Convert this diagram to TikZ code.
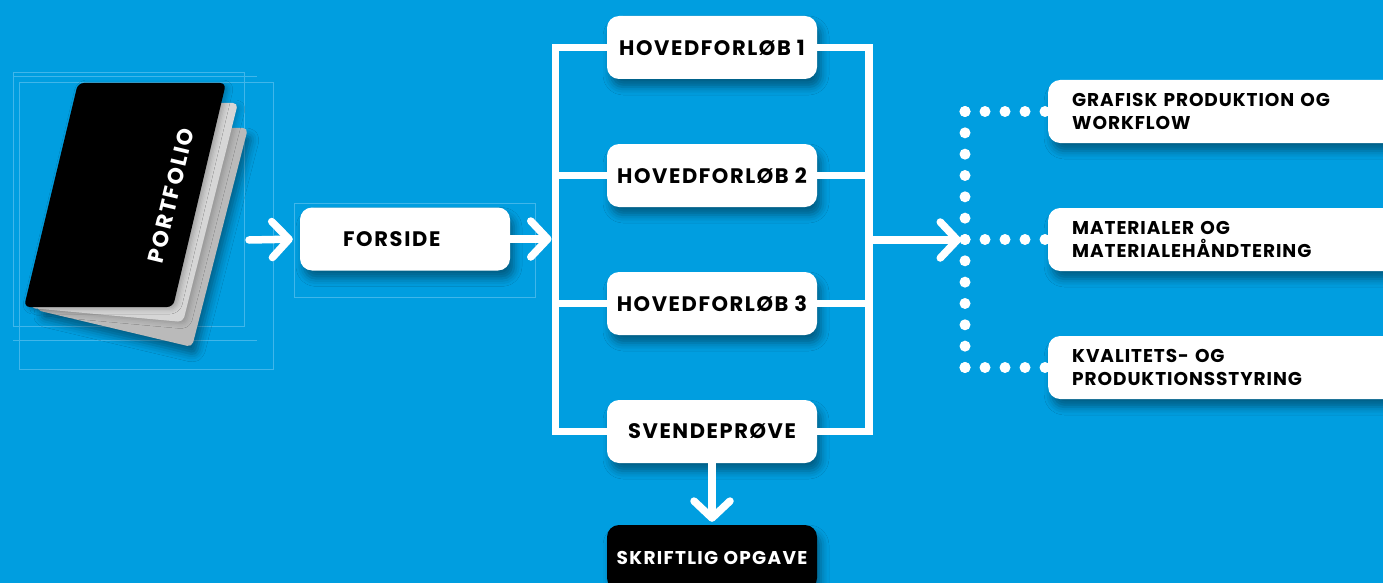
\documentclass[tikz,border=0pt]{standalone}
\usepackage{fontspec}
\setmainfont{Poppins}
\usetikzlibrary{arrows.meta,calc,shadows.blur}
\definecolor{bgblue}{RGB}{0,158,224}
\definecolor{frameblue}{RGB}{64,182,234}
\definecolor{pagelight}{RGB}{214,214,214}
\definecolor{pagedark}{RGB}{186,186,186}
\newcommand\boxfont[3]{\bfseries\fontsize{#1}{#3}\selectfont\addfontfeature{LetterSpace=#2}}
\tikzset {>={Straight Barb[length=17pt,width=36pt,round]}}
\tikzset{
  wire/.style={white,line width=7.5pt},
  arr/.style={white,line width=7.5pt,line cap=round,->},
  dots/.style={white,line width=11pt,line cap=round,dash pattern=on 0pt off #1},
  dots/.default=20pt,
  frame/.style={frameblue,line width=.8pt},
  soft/.style={blur shadow={shadow xshift=4pt,shadow yshift=-8pt,shadow blur radius=8pt,shadow opacity=40}},
  box/.style={fill=white,rounded corners=12pt,minimum width=210pt,minimum height=63pt,
    inner sep=0pt,font=\boxfont{21}{7.5}{24},soft},
  sidebox/.style={box,anchor=west,minimum width=370pt,text width=322pt,inner xsep=24pt,
    align=left,font=\boxfont{18.5}{5}{22.7}}
}

\begin{document}
\begin{tikzpicture}[x=1pt,y=-1pt]
\useasboundingbox (0,0) rectangle (1383,583);
\fill[bgblue] (0,0) rectangle (1383,583);

% faint frames
\draw[frame] (13,72) rectangle (244,326);
\draw[frame] (19,82) rectangle (273,369);
\draw[frame] (13,76) -- (257,76);
\draw[frame] (13,340) -- (257,340);
\draw[frame] (294,203) rectangle (535,297);

% portfolio
\fill[pagedark,rounded corners=5pt,soft] (120,128) -- (248,128) -- (192,347) -- (36,310) -- cycle;
\fill[pagelight,rounded corners=5pt,blur shadow={shadow xshift=3pt,shadow yshift=-2pt,shadow blur radius=5pt,shadow opacity=20}] (100,103) -- (238,103) -- (183,322) -- (30,308) -- cycle;
\fill[black,rounded corners=6pt,blur shadow={shadow xshift=3pt,shadow yshift=-2pt,shadow blur radius=5pt,shadow opacity=25}] (78,83) -- (226,83) -- (173,307) -- (24,307) -- cycle;
\node[white,rotate=76.5,font=\boxfont{22}{9}{24}] (pt) at (171,196) {PORTFOLIO};
\coordinate (pf) at (249,240);

% boxes
\node[box,text width=124pt,inner xsep=43pt,align=left,font=\boxfont{21}{8}{24}] (fs) at (405,239) {FORSIDE};
\node[box] (h1) at (712,47.5) {HOVEDFORLØB 1};
\node[box] (h2) at (712,175.5) {HOVEDFORLØB 2};
\node[box] (h3) at (712,303.5) {HOVEDFORLØB 3};
\node[box] (sv) at (712,431.5) {SVENDEPRØVE};
\node[box,fill=black,text=white,minimum height=65pt,font=\boxfont{18.5}{7}{22}] (sk) at (712,557.5) {SKRIFTLIG OPGAVE};

\node[sidebox] (ga) at (1048,111.5) {GRAFISK PRODUKTION OG\\WORKFLOW};
\node[sidebox] (ma) at (1048,239.5) {MATERIALER OG\\MATERIALEHÅNDTERING};
\node[sidebox] (kv) at (1048,367.5) {KVALITETS- OG\\PRODUKTIONSSTYRING};

\coordinate (lbar) at (555.5,0);
\coordinate (rbar) at (869,0);
\coordinate (hub) at (965,240);

% bracket
\draw[wire] (h1.west) -- (h1.west -| lbar) -- (sv.west -| lbar) -- (sv.west);
\draw[wire] (h2.west) -- (h2.west -| lbar);
\draw[wire] (h3.west) -- (h3.west -| lbar);
\draw[wire] (h1.east) -- (h1.east -| rbar) -- (sv.east -| rbar) -- (sv.east);
\draw[wire] (h2.east) -- (h2.east -| rbar);
\draw[wire] (h3.east) -- (h3.east -| rbar);

% arrows
\draw[arr,shorten >=7pt] (pf) -- (fs.west);
\draw[arr,shorten >=4pt] (fs.east) -- (fs.east -| lbar);
\draw[arr,shorten >=4pt] (rbar |- hub) -- (hub);
\draw[arr,shorten >=3pt] (sv.south) -- (sk.north);

% dotted links
\draw[dots=21.33pt] (ga.west -| hub) -- (kv.west -| hub);
\draw[dots] (ga.west -| hub) -- (ga.west);
\draw[dots] (ma.west -| hub) -- (ma.west);
\draw[dots] (kv.west -| hub) -- (kv.west);
\end{tikzpicture}
\end{document}
